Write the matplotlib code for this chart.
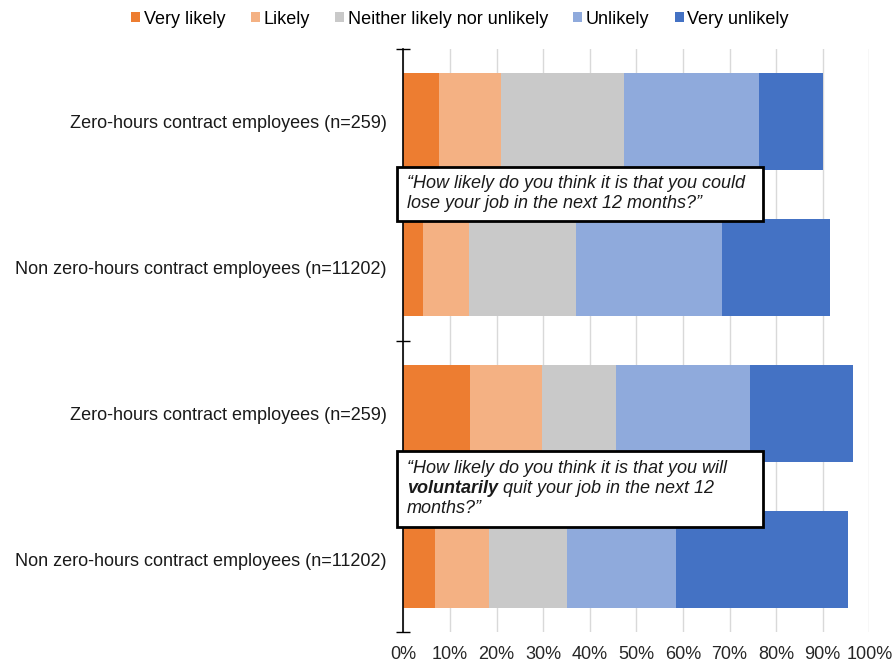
import matplotlib
matplotlib.use("Agg")
import matplotlib.pyplot as plt
from matplotlib.patches import Patch, Rectangle
import numpy as np

plt.rcParams['font.family'] = ['Liberation Sans', 'DejaVu Sans']

# categories, top to bottom
cats = ["Zero-hours contract employees (n=259)",
        "Non zero-hours contract employees (n=11202)",
        "Zero-hours contract employees (n=259)",
        "Non zero-hours contract employees (n=11202)"]
series = ["Very likely", "Likely", "Neither likely nor unlikely", "Unlikely", "Very unlikely"]
very_likely = [7.7, 4.2, 14.4, 6.8]
likely = [13.3, 9.9, 15.3, 11.6]
neither = [26.4, 23.0, 15.9, 16.7]
unlikely = [28.9, 31.2, 28.9, 23.4]
very_unlikely = [13.8, 23.3, 22.1, 36.9]
colors = ["#ED7D31", "#F4B183", "#C9C9C9", "#8FAADC", "#4472C4"]
xticks = [0, 10, 20, 30, 40, 50, 60, 70, 80, 90, 100]

W, H = 892, 664
FS = 13
fig = plt.figure(figsize=(W / 100, H / 100), dpi=100)

def fx(px):
    return px / W

def fy(py):
    return 1 - py / H

ax = fig.add_axes([fx(403.3), fy(632), fx(869.3) - fx(403.3), fy(49) - fy(632)])

y = np.arange(len(cats))
left = np.zeros(len(cats))
for vals, name, c in zip([very_likely, likely, neither, unlikely, very_unlikely], series, colors):
    ax.barh(y, vals, left=left, height=0.666, color=c, label=name, zorder=2)
    left += np.array(vals)

ax.set_xlim(0, 100)
ax.set_ylim(3.5, -0.5)
ax.set_xticks(xticks)
ax.set_xticklabels([f"{t}%" for t in xticks], fontsize=FS, color="#262626")
ax.set_yticks(y)
ax.set_yticklabels(cats, fontsize=FS, color="#1a1a1a")
ax.tick_params(axis="y", which="major", length=0, pad=12)
ax.tick_params(axis="x", length=0, pad=10)
ax.set_yticks([-0.5, 1.5, 3.5], minor=True)
ax.tick_params(axis="y", which="minor", direction="inout", length=10, width=1)
ax.grid(axis="x", color="#d9d9d9", lw=1, zorder=0)
for s in ["top", "right", "bottom"]:
    ax.spines[s].set_visible(False)
ax.spines["left"].set_linewidth(1.2)
ax.spines["left"].set_zorder(3)

handles = [Patch(facecolor=c, edgecolor="none") for c in colors]
fig.legend(handles, series, loc="center", bbox_to_anchor=(fx(460), fy(19)), ncol=5,
           frameon=False, fontsize=FS, handlelength=0.5, handleheight=0.5,
           handletextpad=0.2, columnspacing=1.4)

# question boxes
def box(x0, y0, x1, y1):
    r = Rectangle((fx(x0), fy(y1)), fx(x1) - fx(x0), fy(y0) - fy(y1),
                  transform=fig.transFigure, facecolor="white", edgecolor="black",
                  lw=2, zorder=5)
    fig.patches.append(r)

box(397, 167, 763, 221)
box(397, 451, 763, 527)

tkw = dict(fontsize=FS, style="italic", va="center", ha="left", zorder=6, color="#1a1a1a")
fig.text(fx(407), fy(183.5), "\u201cHow likely do you think it is that you could", **tkw)
fig.text(fx(407), fy(203.5), "lose your job in the next 12 months?\u201d", **tkw)

fig.text(fx(407), fy(468.5), "\u201cHow likely do you think it is that you will", **tkw)
t_bold = fig.text(fx(407), fy(488.5), "voluntarily", weight="bold", **tkw)
fig.canvas.draw()
bb = t_bold.get_window_extent(renderer=fig.canvas.get_renderer())
fig.text(bb.x1 / W, fy(488.5), " quit your job in the next 12", **tkw)
fig.text(fx(407), fy(508.5), "months?\u201d", **tkw)

fig.savefig("out.png", dpi=100)
